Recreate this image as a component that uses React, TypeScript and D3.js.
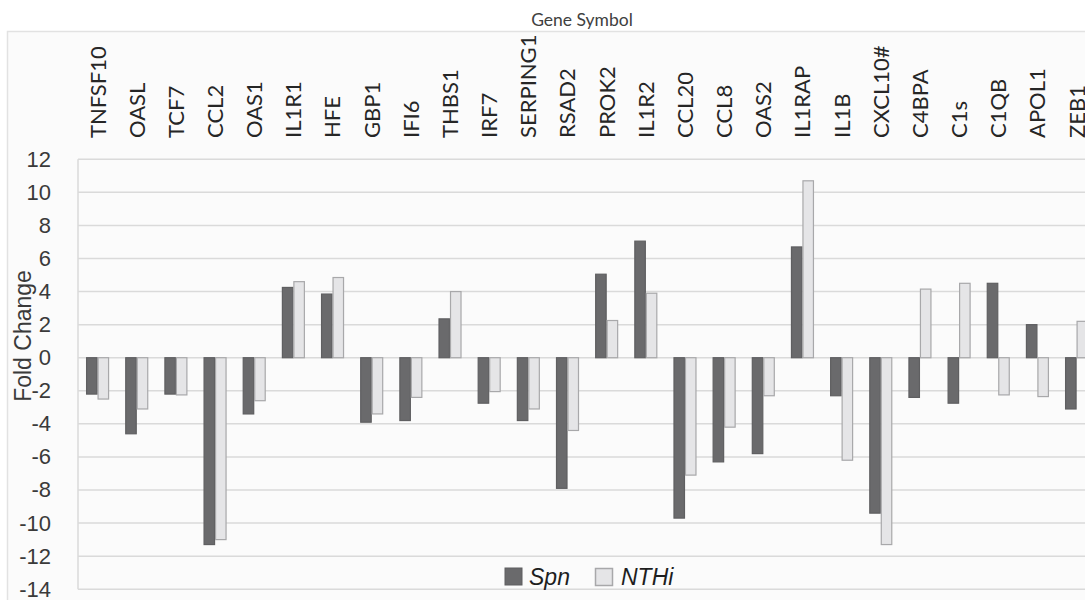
import React from 'react';
import * as d3 from 'd3';

// Gene symbols along the top of the chart
const genes = [
  'TNFSF10', 'OASL', 'TCF7', 'CCL2', 'OAS1', 'IL1R1', 'HFE', 'GBP1', 'IFI6',
  'THBS1', 'IRF7', 'SERPING1', 'RSAD2', 'PROK2', 'IL1R2', 'CCL20', 'CCL8',
  'OAS2', 'IL1RAP', 'IL1B', 'CXCL10#', 'C4BPA', 'C1s', 'C1QB', 'APOL1', 'ZEB1',
];

// Fold change
const spnValues = [
  -2.2, -4.6, -2.2, -11.3, -3.4, 4.25, 3.85, -3.9, -3.8, 2.35, -2.75, -3.8,
  -7.9, 5.05, 7.05, -9.7, -6.3, -5.8, 6.7, -2.3, -9.4, -2.4, -2.75, 4.5, 2.0, -3.1,
];
const nthiValues = [
  -2.5, -3.1, -2.25, -11.0, -2.6, 4.6, 4.85, -3.4, -2.4, 4.0, -2.05, -3.1,
  -4.4, 2.25, 3.9, -7.1, -4.2, -2.3, 10.7, -6.2, -11.3, 4.15, 4.5, -2.25, -2.35, 2.2,
];

const seriesNames = ['Spn', 'NTHi'];
const yTicks = [12, 10, 8, 6, 4, 2, 0, -2, -4, -6, -8, -10, -12, -14];

const W = 1085;
const H = 600;
const plotLeft = 78;
const plotTop = 159.3;
const plotBottom = 589.2;
const step = 39.16;

const colors = {
  Spn: { fill: '#6a6a6c', stroke: '#5f5f61' },
  NTHi: { fill: '#e5e5e7', stroke: '#a8a8aa' },
};

const App = () => {
  const x0 = d3
    .scaleBand()
    .domain(genes)
    .range([plotLeft, plotLeft + step * genes.length])
    .paddingInner(0.413)
    .paddingOuter(0.2065);

  const x1 = d3.scaleBand().domain(seriesNames).range([0, x0.bandwidth()]);

  const y = d3.scaleLinear().domain([-14, 12]).range([plotBottom, plotTop]);

  const rows = genes.map((g, i) => ({ gene: g, Spn: spnValues[i], NTHi: nthiValues[i] }));

  const font = 'Lato, "Open Sans", sans-serif';
  const arial = '"Liberation Sans", Arial, sans-serif';

  return (
    <svg
      width={W}
      height={H}
      style={{ position: 'absolute', left: 0, top: 0, background: '#fff' }}
    >
      {/* chart frame */}
      <rect x={7.5} y={31.5} width={W} height={H} fill="#fbfbfb" stroke="#e2e2e2" strokeWidth={1.5} />

      <text x={582} y={26} textAnchor="middle" fontFamily={font} fontSize={17.5} fill="#404040">
        Gene Symbol
      </text>

      {/* gridlines */}
      {yTicks.map((t) => (
        <line key={t} x1={plotLeft} x2={W} y1={y(t)} y2={y(t)} stroke="#dadada" strokeWidth={1.5} />
      ))}
      <line x1={plotLeft} x2={plotLeft} y1={plotTop} y2={plotBottom} stroke="#dadada" strokeWidth={1.5} />

      {/* y tick labels */}
      {yTicks.map((t) => (
        <text
          key={'l' + t}
          x={51}
          y={y(t)}
          dy="0.34em"
          textAnchor="end"
          fontFamily={arial}
          fontSize={22}
          fill="#3a3a3a"
        >
          {t}
        </text>
      ))}

      <text
        transform={`translate(23,336) rotate(-90)`}
        textAnchor="middle"
        dy="0.36em"
        fontFamily={arial}
        fontSize={23}
        fill="#3a3a3a"
      >
        Fold Change
      </text>

      {/* gene labels */}
      {genes.map((g) => (
        <text
          key={'g' + g}
          transform={`translate(${(x0(g) as number) + x0.bandwidth() / 2},138) rotate(-90)`}
          dy="0.36em"
          textAnchor="start"
          fontFamily={font}
          fontSize={22}
          fill="#262626"
        >
          {g}
        </text>
      ))}

      {/* bars */}
      {rows.map((r) => (
        <g key={'b' + r.gene} transform={`translate(${x0(r.gene)},0)`}>
          {seriesNames.map((s) => {
            const v = r[s as 'Spn' | 'NTHi'];
            const c = colors[s as 'Spn' | 'NTHi'];
            return (
              <rect
                key={s}
                x={(x1(s) as number) + 0.5}
                y={Math.min(y(v), y(0))}
                width={x1.bandwidth() - 1}
                height={Math.abs(y(v) - y(0))}
                fill={c.fill}
                stroke={c.stroke}
                strokeWidth={1.2}
              />
            );
          })}
        </g>
      ))}

      {/* legend */}
      <g fontFamily={arial} fontSize={23} fontStyle="italic" fill="#1e1e1e">
        <rect x={505} y={568} width={17} height={17} fill={colors.Spn.fill} stroke={colors.Spn.stroke} />
        <text x={529} y={585}>{seriesNames[0]}</text>
        <rect x={595.5} y={568.5} width={17} height={17} fill={colors.NTHi.fill} stroke={colors.NTHi.stroke} strokeWidth={1.5} />
        <text x={621} y={585}>{seriesNames[1]}</text>
      </g>
    </svg>
  );
};

export default App;
